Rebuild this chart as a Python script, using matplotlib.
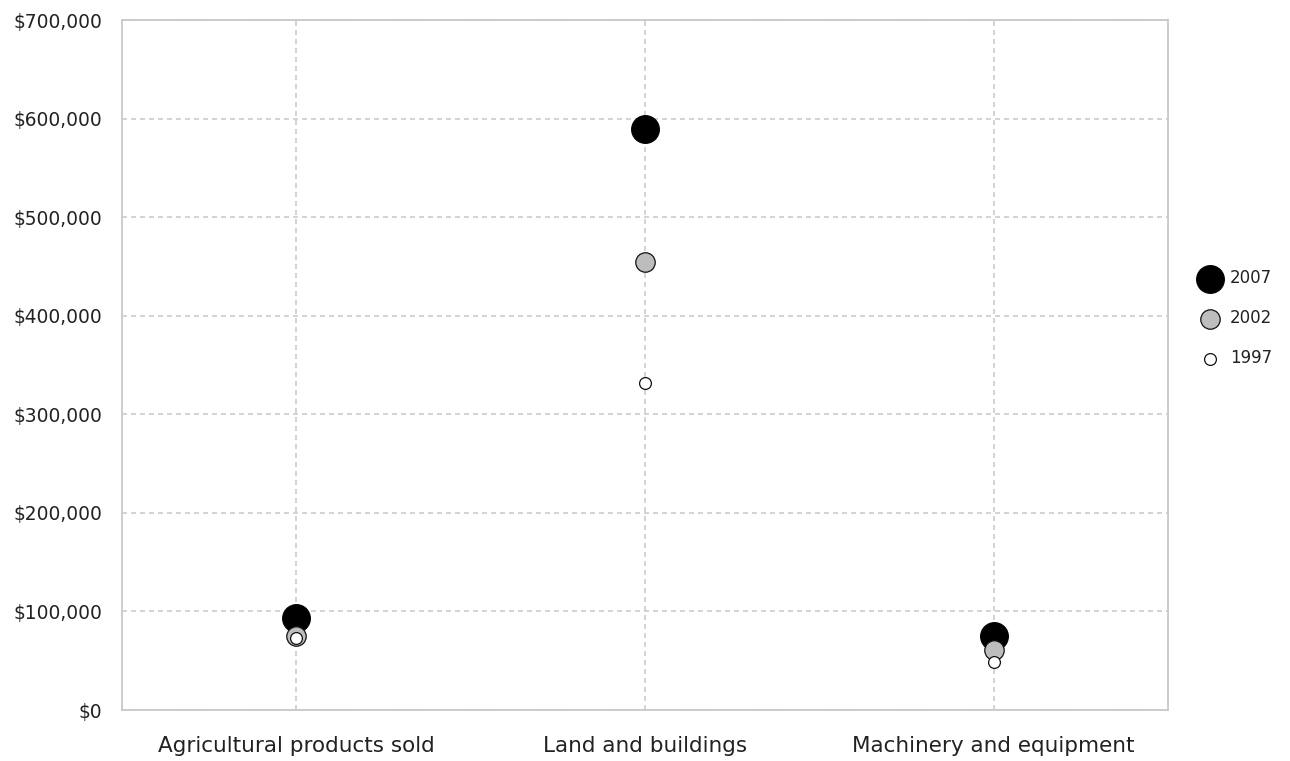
import matplotlib.pyplot as plt
from matplotlib.ticker import FuncFormatter

plt.rcParams['font.family'] = ['DejaVu Sans']

categories = ["Agricultural products sold", "Land and buildings", "Machinery and equipment"]
years = ["2007", "2002", "1997"]
v2007 = [93000, 589000, 75000]
v2002 = [75000, 454000, 61000]
v1997 = [73000, 332000, 49000]

fig = plt.figure(figsize=(12.9, 7.61), dpi=100)
ax = fig.add_axes([0.0946, 0.067, 0.8108, 0.9067])

x = range(len(categories))
ax.scatter(x, v2007, s=20**2, c='black', edgecolors='black', linewidths=0.8, zorder=3, label=years[0])
ax.scatter(x, v2002, s=14**2, c='#bdbdbd', edgecolors='#111111', linewidths=0.9, zorder=4, label=years[1])
ax.scatter(x, v1997, s=8.5**2, c='white', edgecolors='#111111', linewidths=0.9, zorder=5, label=years[2])

ax.set_xlim(-0.5, 2.5)
ax.set_ylim(0, 700000)
ax.set_yticks(range(0, 700001, 100000))
ax.yaxis.set_major_formatter(FuncFormatter(lambda v, p: "${:,.0f}".format(v)))
ax.set_xticks(list(x))
ax.set_xticklabels(categories)
ax.tick_params(length=0, colors='#222222')
ax.tick_params(axis='y', labelsize=13.4, pad=14)
ax.tick_params(axis='x', labelsize=15.5, pad=19)
ax.grid(True, color='#cccccc', linestyle=(0, (3, 2.4)), linewidth=1.2)
ax.set_axisbelow(True)
for s in ax.spines.values():
    s.set_color('#c8c8c8')
    s.set_linewidth(1.3)

ax.legend(loc='center left', bbox_to_anchor=(1.024, 0.568), frameon=False, fontsize=12,
          borderpad=0, borderaxespad=0, handlelength=2, handletextpad=0.2,
          labelspacing=1.33, labelcolor='#222222')

plt.savefig('out.png')
